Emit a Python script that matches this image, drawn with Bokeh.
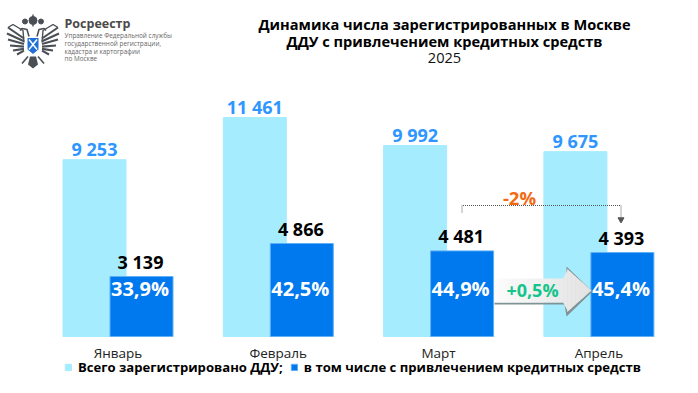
from bokeh.plotting import figure
from bokeh.embed import file_html
from bokeh.resources import INLINE
from bokeh.models import FixedTicker, Legend, LegendItem, ColumnDataSource, Range1d
from bokeh.core.properties import value

months = ["Январь", "Февраль", "Март", "Апрель"]
total = [9253, 11461, 9992, 9675]
credit = [3139, 4866, 4481, 4393]
share = ["33,9%", "42,5%", "44,9%", "45,4%"]
total_labels = ["9 253", "11 461", "9 992", "9 675"]
credit_labels = ["3 139", "4 866", "4 481", "4 393"]
legend_labels = ["Всего зарегистрировано ДДУ;", "в том числе с привлечением кредитных средств"]
title_lines = ["Динамика числа зарегистрированных в Москве", "ДДУ с привлечением кредитных средств"]
title_year = "2025"
logo_name = "Росреестр"
logo_lines = ["Управление Федеральной службы", "государственной регистрации,", "кадастра и картографии", "по Москве"]
delta_total = "-2%"
delta_share = "+0,5%"

LIGHT, DARK = "#A6ECFF", "#0078EE"
FONT = value("Open Sans")
W, H = 698, 393
BASE = 336  # picture pixel of zero line
PXU = 219 / 11461
PXM = 160.3
X0 = 117.5

xs = list(range(len(months)))
BW = 63 / PXM
OFF = 23.5 / PXM


def px(x):
    return (x - X0) / PXM


def py(y):
    return (BASE - y) / PXU


p = figure(width=W, height=H, output_backend="svg", toolbar_location=None,
           x_range=Range1d(px(0), px(W)), y_range=Range1d(py(H), py(0)),
           min_border_left=0, min_border_right=0, min_border_top=0, min_border_bottom=0,
           outline_line_color=None, background_fill_color="white", border_fill_color="white")
p.grid.visible = False
p.yaxis.visible = False
ax = p.xaxis[0]
ax.fixed_location = 0
ax.ticker = FixedTicker(ticks=xs)
ax.major_label_overrides = {i: m for i, m in zip(xs, months)}
ax.axis_line_color = None
ax.major_tick_line_color = None
ax.minor_tick_line_color = None
ax.major_label_standoff = 1
ax.major_label_text_font = "Open Sans"
ax.major_label_text_font_size = "13.5px"
ax.major_label_text_color = "#222222"

src = ColumnDataSource(dict(
    x=xs, x1=[i - OFF for i in xs], x2=[i + OFF for i in xs],
    total=total, credit=credit, share=share, tl=total_labels, cl=credit_labels,
    mid=[py(288)] * 4))

r1 = p.vbar(x="x1", top="total", bottom=0, width=BW, color=LIGHT, source=src)
r2 = p.vbar(x="x2", top="credit", bottom=0, width=BW, fill_color=DARK, line_color="#5fb0f5", line_width=1, source=src)

p.text(x="x1", y="total", text="tl", source=src, text_font=FONT, text_font_size="18px", text_font_style="bold",
       text_color="#2E96FF", text_align="center", text_baseline="bottom", y_offset=1)
p.text(x="x2", y="credit", text="cl", source=src, text_font=FONT, text_font_size="18px", text_font_style="bold",
       text_color="#000000", text_align="center", text_baseline="bottom", y_offset=-3, x_offset=-1)
p.text(x="x2", y="mid", text="share", source=src, text_font=FONT, text_font_size="20px", text_font_style="bold",
       text_color="#FFFFFF", text_align="center", text_baseline="middle", x_offset=-1.5)

# arrow (strips simulate the gradient fill)
tipx, headx, lx = 591, 564, 494
ty, by, cy = 266, 314, 290
bt, bb = 278, 302
p.patch([px(v) for v in (lx, headx, headx + 2, tipx + 1, headx + 2, headx + 2, lx)],
        [py(v) for v in (bb + 2, bb + 2, by + 2, cy + 1, ty, bb, bb)], color="#7f9396", line_color=None)
n = 24
for i in range(n):
    a = lx + (tipx - lx) * i / n
    b = min(lx + (tipx - lx) * (i + 1) / n + 0.6, tipx)

    def half(v):
        if v <= headx:
            return bt, bb
        f = (tipx - v) / (tipx - headx)
        return cy - (cy - ty) * f, cy + (by - cy) * f
    ta, ba = half(a)
    tb, bb2 = half(b)
    c = int(252 - 26 * i / n)
    col = "#%02x%02x%02x" % (c, c, c)
    p.patch([px(a), px(b), px(b), px(a)], [py(ta), py(tb), py(bb2), py(ba)], color=col, line_color=None)
p.text(x=[px(532)], y=[py(289)], text=[delta_share], text_font=FONT, text_font_size="18px", text_font_style="bold",
       text_color="#14C48B", text_align="center", text_baseline="middle")

# bracket
p.line([px(461.5), px(461.5), px(620.5), px(620.5)], [py(212), py(205), py(205), py(217)],
       line_color="#555555", line_width=1, line_dash="1 1")
p.scatter([px(620.5)], [py(219)], marker="inverted_triangle", size=6, color="#555555")
p.text(x=[px(519)], y=[py(197)], text=[delta_total], text_font=FONT, text_font_size="18.5px", text_font_style="bold",
       text_color="#F26A12", text_align="center", text_baseline="middle")

# titles
p.text(x=[px(444)] * 2, y=[py(23), py(40)], text=title_lines, text_font=FONT, text_font_size="14.6px",
       text_font_style="bold", text_color="#000000", text_align="center", text_baseline="middle")
p.text(x=[px(444)], y=[py(57)], text=[title_year], text_font=FONT, text_font_size="14.6px",
       text_color="#111111", text_align="center", text_baseline="middle")

# logo text
p.text(x=[px(64)], y=[py(23)], text=[logo_name], text_font=FONT, text_font_size="12.5px", text_font_style="bold",
       text_color="#4A4A4A", text_baseline="middle")
p.text(x=[px(64)] * 4, y=[py(v) for v in (35, 43, 51, 58)], text=logo_lines, text_font=FONT, text_font_size="6.4px",
       text_color="#666666", text_baseline="middle")

# simplified emblem
GR = "#4A4F55"
cx = 32.5
for side in (-1, 1):
    tips = [(25, 27), (26, 33), (25, 39), (23, 45), (20, 50), (16, 54)]
    for tx, ty2 in tips:
        p.line([px(cx + side * 9), px(cx + side * tx)], [py(38 + (ty2 - 27) * 0.45), py(ty2)], line_color=GR, line_width=2.1)
    p.line([px(cx + side * 9), px(cx + side * 10), px(cx + side * 20), px(cx + side * 25)],
           [py(42), py(30), py(24), py(27)], line_color=GR, line_width=1.4)
    p.line([px(cx + side * 4), px(cx + side * 6), px(cx + side * 11), px(cx + side * 13)],
           [py(36), py(29), py(28), py(30)], line_color=GR, line_width=1.6)
    p.scatter([px(cx + side * 8)], [py(21)], marker="circle", size=5, color=GR)
    p.line([px(cx + side * 5), px(cx + side * 11)], [py(56), py(63)], line_color=GR, line_width=1.6)
p.scatter([px(cx)], [py(20)], marker="circle", size=8, color=GR)
p.line([px(cx), px(cx)], [py(14), py(26)], line_color=GR, line_width=1.4)
p.patch([px(cx + v) for v in (-6, 6, 6, 0, -6)], [py(v) for v in (37, 37, 49, 54, 49)], color="#1F6FD6", line_color="white")
p.line([px(cx - 4), px(cx + 4)], [py(39), py(49)], line_color="white", line_width=1.5)
p.line([px(cx + 4), px(cx - 4)], [py(39), py(49)], line_color="white", line_width=1.5)
p.patch([px(cx + v) for v in (-3, 3, 5, 0, -5)], [py(v) for v in (56, 56, 64, 68, 64)], color=GR, line_color=None)

leg = Legend(items=[LegendItem(label=legend_labels[0], renderers=[r1]), LegendItem(label=legend_labels[1], renderers=[r2])],
             orientation="horizontal", location=(64, 17), background_fill_alpha=0, border_line_color=None,
             glyph_width=8, glyph_height=8, label_text_font="Open Sans", label_text_font_style="bold",
             label_text_font_size="13.1px", label_text_color="#000000", spacing=7, padding=0, margin=0,
             label_standoff=6)
p.add_layout(leg)

open("out.html", "w").write(file_html(p, INLINE))
